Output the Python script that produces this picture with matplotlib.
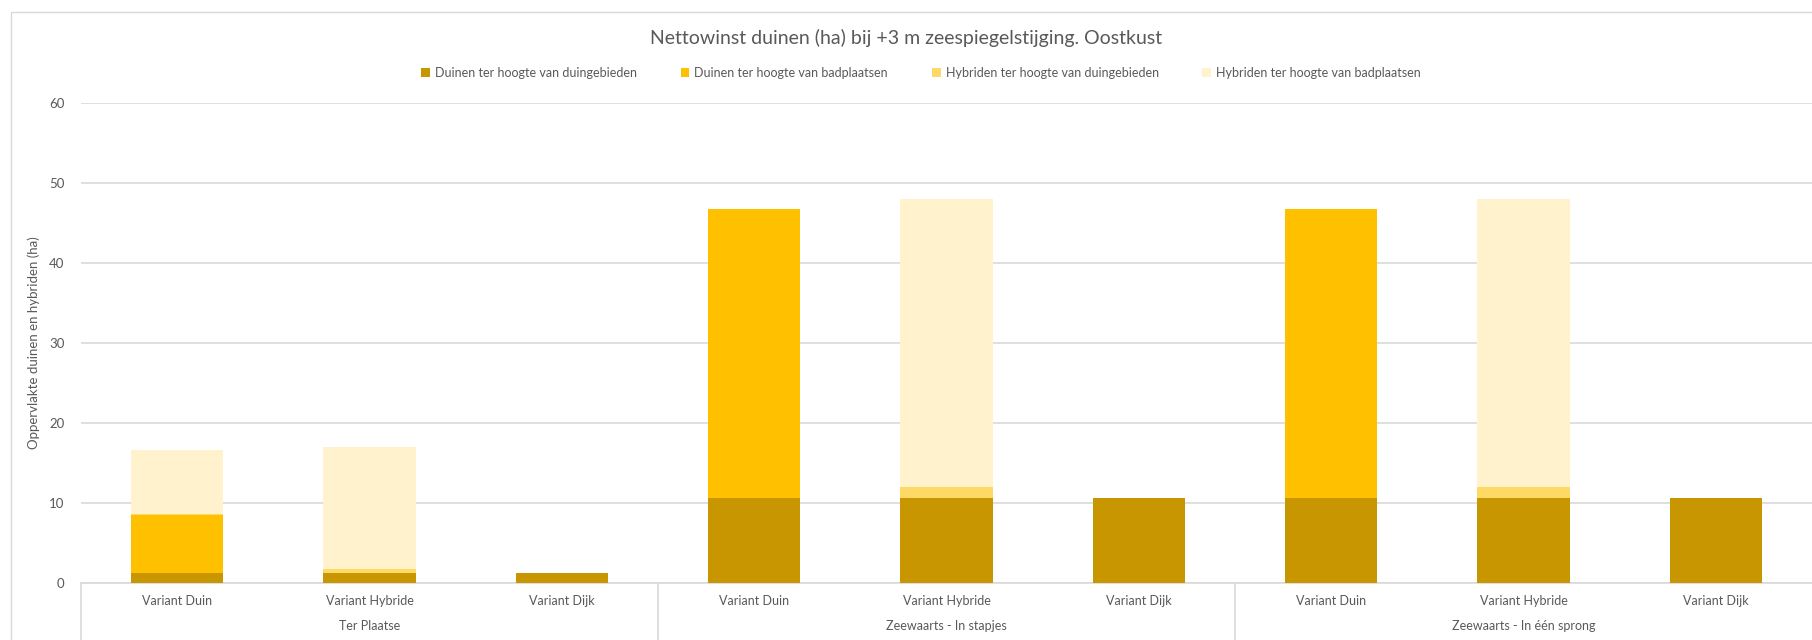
import matplotlib
matplotlib.use("Agg")
import numpy as np
import matplotlib.pyplot as plt
from matplotlib.patches import Patch, Rectangle

plt.rcParams['font.family'] = ['Lato', 'DejaVu Sans']

# data (ha)
groups = ["Ter Plaatse", "Zeewaarts - In stapjes", "Zeewaarts - In één sprong"]
variants = ["Variant Duin", "Variant Hybride", "Variant Dijk"]
series_names = ["Duinen ter hoogte van duingebieden", "Duinen ter hoogte van badplaatsen",
                "Hybriden ter hoogte van duingebieden", "Hybriden ter hoogte van badplaatsen"]
duin_duingebied = [1.35, 1.35, 1.35, 10.7, 10.7, 10.7, 10.7, 10.7, 10.7]
duin_badplaats = [7.2, 0, 0, 36.1, 0, 0, 36.1, 0, 0]
hybr_duingebied = [0.1, 0.45, 0, 0, 1.3, 0, 0, 1.3, 0]
hybr_badplaats = [8.0, 15.25, 0, 0, 36.1, 0, 0, 36.1, 0]
colors = ["#C89600", "#FFC000", "#FFD966", "#FFF2CC"]

W, H = 1812, 640
fig = plt.figure(figsize=(W / 100, H / 100), dpi=100)
ax = fig.add_axes([81 / W, 56.7 / H, 1 - 81 / W, (583.3 - 102.7) / H])

# chart border
fig.add_artist(Rectangle((10.5 / W, -0.5), 2, 1.5 - 11.5 / H, transform=fig.transFigure,
                         fill=False, edgecolor="#D9D9D9", linewidth=1))

x = np.arange(len(duin_duingebied))
bottom = np.zeros(len(x))
for vals, name, c in zip([duin_duingebied, duin_badplaats, hybr_duingebied, hybr_badplaats],
                         series_names, colors):
    ax.bar(x, vals, width=0.48, bottom=bottom, color=c, label=name, zorder=3)
    bottom += np.array(vals)

ax.set_xlim(-0.5, 8.5)
ax.set_ylim(0, 60.1)
ax.set_yticks(range(0, 61, 10))
ax.yaxis.grid(True, color="#D9D9D9", linewidth=1.2)
ax.set_axisbelow(True)
for s in ["top", "right", "left"]:
    ax.spines[s].set_visible(False)
ax.spines["bottom"].set_color("#D9D9D9")
ax.spines["bottom"].set_linewidth(1.2)
ax.tick_params(axis="y", length=0, pad=12, labelsize=9.5, labelcolor="#595959")
ax.set_xticks([])

# two-level category axis
for i in x:
    ax.text(i, -17.5 / 480, variants[i % 3], transform=ax.get_xaxis_transform(),
            ha="center", va="center", fontsize=9, color="#595959")
for g, name in enumerate(groups):
    ax.text(3 * g + 1, -43 / 480, name, transform=ax.get_xaxis_transform(),
            ha="center", va="center", fontsize=9, color="#595959")
for sep in [-0.5, 2.5, 5.5]:
    ax.plot([sep, sep], [0, -0.2], transform=ax.get_xaxis_transform(),
            color="#D9D9D9", linewidth=1.2, clip_on=False)

ax.set_ylabel("Oppervlakte duinen en hybriden (ha)", fontsize=9.5, color="#595959", labelpad=8)
ax.yaxis.set_label_coords(-41 / (W - 81), 0.5)

fig.text(0.5, 1 - 38 / H, "Nettowinst duinen (ha) bij +3 m zeespiegelstijging. Oostkust",
         ha="center", va="center", fontsize=14, color="#595959")

handles = [Patch(facecolor=c, edgecolor="none") for c in colors]
fig.legend(handles, series_names, loc="center", bbox_to_anchor=(921 / W, 1 - 73 / H),
           ncol=4, frameon=False, fontsize=9, labelcolor="#595959",
           handlelength=0.7, handleheight=0.7, handletextpad=0.4, columnspacing=3.5)

fig.savefig("out.png", dpi=100)
